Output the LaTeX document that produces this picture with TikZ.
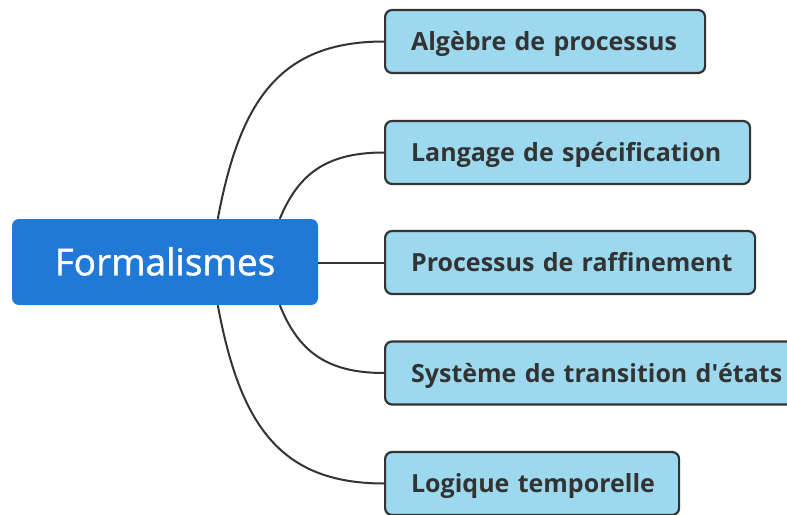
\documentclass[tikz,border=0pt]{standalone}
\usepackage{fontspec}
\setmainfont{Open Sans}
\newfontfamily\centralfont{Open Sans}[FakeBold=1.2]
\definecolor{rootblue}{HTML}{2179D7}
\definecolor{leafblue}{HTML}{9DD9EE}
\definecolor{ink}{HTML}{333333}
\begin{document}
\begin{tikzpicture}[x=1pt,y=-1pt,
  rootbox/.style={draw=none,fill=rootblue,rounded corners=7pt,minimum width=306pt,minimum height=86pt,
    text=white,font=\centralfont\fontsize{37}{44}\selectfont,inner sep=0pt,text height=26.5pt,text depth=0pt},
  leafbox/.style={draw=ink,line width=2.2pt,fill=leafblue,rounded corners=7pt,minimum height=63pt,
    anchor=west,text=ink,font=\fontsize{25}{30}\selectfont\bfseries,inner sep=0pt,align=left,
    text height=18pt,text depth=0pt},
  link/.style={draw=ink,line width=2pt}]
\useasboundingbox (0,0) rectangle (787,514);
\clip (0,0) rectangle (787,514);

% central topic
\node[rootbox] (root) at (165,262) {Formalismes};

% branches
\node[leafbox,text width=320pt] (b1) at (384,41.5) {\hspace*{26pt}Algèbre de processus};
\node[leafbox,text width=365pt] (b2) at (384,152.5) {\hspace*{26pt}Langage de spécification};
\node[leafbox,text width=370pt] (b3) at (384,262.5) {\hspace*{26pt}Processus de raffinement};
\node[leafbox,text width=430pt] (b4) at (384,373) {\hspace*{26pt}Système de transition d\textquotesingle états};
\node[leafbox,text width=294pt] (b5) at (384,483.5) {\hspace*{26pt}Logique temporelle};

% connectors
\coordinate (r1) at ([xshift=206pt]root.north west);
\coordinate (r2) at ([xshift=268pt]root.north west);
\coordinate (r4) at ([xshift=268pt]root.south west);
\coordinate (r5) at ([xshift=206pt]root.south west);
\path[link] (r1) .. controls (240,100) and (280,41.5) .. (b1.west);
\path[link] (r2) .. controls (298,175) and (325,152.5) .. (b2.west);
\path[link] (root.east |- b3.west) -- (b3.west);
\path[link] (r4) .. controls (298,350) and (325,373) .. (b4.west);
\path[link] (r5) .. controls (240,425) and (280,483.5) .. (b5.west);
\end{tikzpicture}
\end{document}
